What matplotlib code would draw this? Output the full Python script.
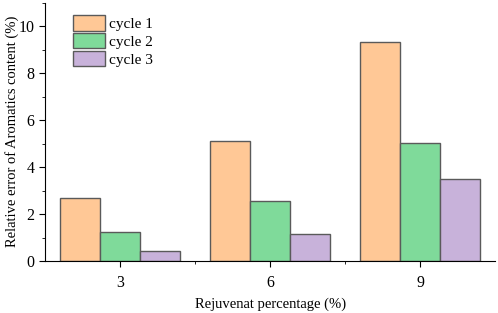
import numpy as np
import matplotlib
matplotlib.use("Agg")
import matplotlib.pyplot as plt
from matplotlib.ticker import MultipleLocator

plt.rcParams['font.family'] = ['Liberation Serif', 'DejaVu Serif']

categories = ["3", "6", "9"]
series_names = ["cycle 1", "cycle 2", "cycle 3"]
cycle1 = [2.69, 5.12, 9.31]
cycle2 = [1.22, 2.57, 5.03]
cycle3 = [0.41, 1.15, 3.50]
colors = ["#FFC896", "#7FDA9A", "#C8B2DA"]

fig = plt.figure(figsize=(4.98, 3.13), dpi=100)
ax = fig.add_axes([0.0904, 0.166, 0.904, 0.826])

x = np.arange(len(categories))
w = 0.8 / 3
for i, (vals, name) in enumerate(zip([cycle1, cycle2, cycle3], series_names)):
    ax.bar(x + (i - 1) * w, vals, width=w, color=colors[i], edgecolor="#5a5a5a",
           linewidth=1.0, label=name)

ax.set_xlim(-0.5, 2.5)
ax.set_ylim(0, 11)
ax.set_xticks(x)
ax.set_xticklabels(categories)
ax.set_xticks([0.5, 1.5], minor=True)
ax.yaxis.set_major_locator(MultipleLocator(2))
ax.yaxis.set_minor_locator(MultipleLocator(1))
ax.tick_params(axis="both", which="major", direction="out", length=4, labelsize=11.5)
ax.tick_params(axis="both", which="minor", direction="out", length=2.5)
ax.tick_params(axis="x", pad=6)
for s in ["top", "right"]:
    ax.spines[s].set_visible(False)

ax.set_xlabel("Rejuvenat percentage (%)", fontsize=10.5, labelpad=5)
ax.set_ylabel("Relative error of Aromatics content (%)", fontsize=10.5, labelpad=0)

leg = ax.legend(loc="upper left", bbox_to_anchor=(0.062, 0.952), frameon=False,
                fontsize=11, handlelength=2.1, handleheight=1.2,
                labelspacing=0.12, handletextpad=0.25, borderaxespad=0,
                borderpad=0)

fig.savefig("out.png", dpi=100)
